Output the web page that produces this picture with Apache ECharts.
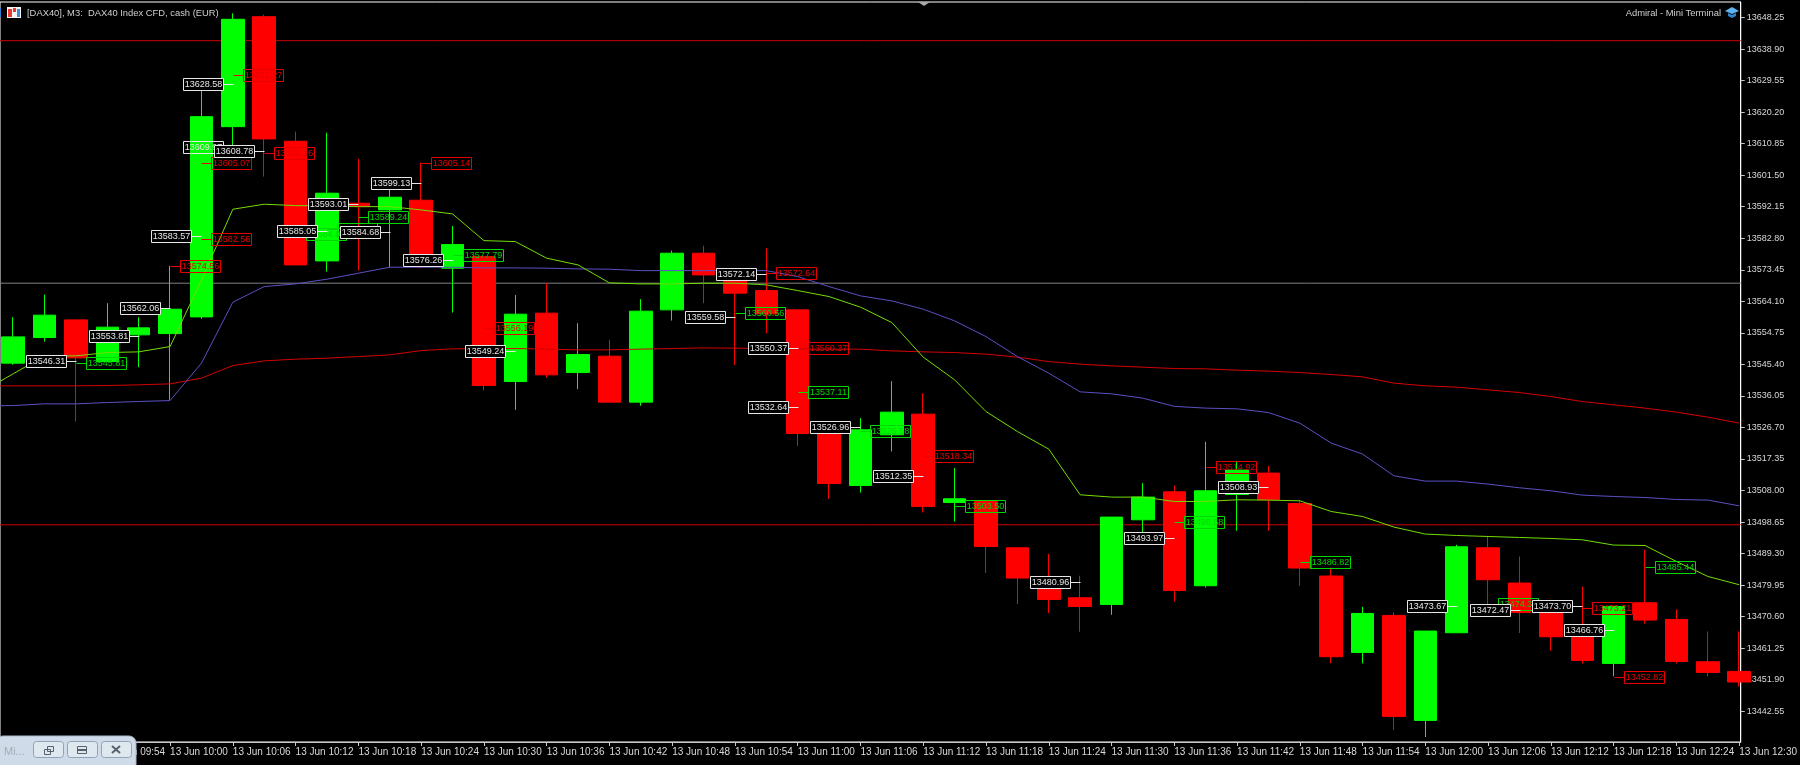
<!DOCTYPE html>
<html>
<head>
<meta charset="utf-8">
<title>DAX40 M3</title>
<style>
  html, body { margin: 0; padding: 0; background: #000; }
  #chart { width: 1800px; height: 765px; }
</style>
<script src="https://cdn.jsdelivr.net/npm/echarts@6/dist/echarts.min.js"></script>
</head>
<body>
<div id="chart"></div>
<script>
// M3 bars, index 0 = 13 Jun 09:45
var opens = [13545.77, 13553.36, 13558.60, 13546.24, 13554.16, 13554.54, 13559.49, 13615.90, 13648.50, 13611.57,
  13576.09, 13593.19, 13591.21, 13594.08, 13573.93, 13577.36, 13540.31, 13560.59, 13542.98, 13547.84,
  13534.21, 13561.57, 13578.37, 13571.94, 13567.29, 13561.57, 13525.41, 13509.49, 13524.52, 13530.65,
  13504.45, 13504.75, 13491.02, 13481.03, 13476.20, 13474.22, 13499.32, 13507.62, 13479.76, 13506.82,
  13513.16, 13504.15, 13482.64, 13459.99, 13470.96, 13439.83, 13465.83, 13491.02, 13480.56, 13472.65,
  13465.24, 13456.73, 13474.72, 13469.77, 13457.23, 13454.36];
var closes = [13553.56, 13560.00, 13547.34, 13556.44, 13556.23, 13561.77, 13618.86, 13647.73, 13612.25, 13574.90,
  13596.16, 13592.18, 13594.97, 13574.40, 13580.92, 13539.13, 13560.29, 13542.30, 13548.32, 13534.21,
  13561.18, 13578.37, 13571.94, 13566.52, 13560.38, 13524.90, 13510.08, 13526.00, 13531.24, 13503.26,
  13505.55, 13491.41, 13482.04, 13475.70, 13473.62, 13500.12, 13506.05, 13478.37, 13507.92, 13514.05,
  13505.25, 13485.01, 13458.72, 13471.55, 13441.02, 13466.33, 13491.32, 13481.54, 13471.85, 13464.64,
  13457.62, 13473.62, 13469.59, 13457.32, 13454.06, 13451.22];
var lows = [13545.26, 13552.17, 13528.46, 13546.24, 13544.58, 13534.89, 13558.90, 13607.51, 13601.08, 13574.90,
  13572.92, 13573.21, 13574.22, 13573.93, 13560.77, 13537.65, 13531.93, 13541.50, 13538.06, 13534.21,
  13533.11, 13558.39, 13563.55, 13545.26, 13554.66, 13521.26, 13505.46, 13507.41, 13519.57, 13501.49,
  13498.82, 13483.52, 13474.34, 13471.67, 13466.13, 13471.16, 13492.59, 13475.11, 13479.26, 13496.06,
  13496.06, 13479.76, 13456.73, 13456.73, 13436.99, 13434.91, 13465.83, 13470.66, 13465.74, 13460.49,
  13456.73, 13452.88, 13468.50, 13456.73, 13452.88, 13449.91];
var highs = [13559.40, 13566.10, 13558.60, 13563.55, 13559.40, 13574.56, 13627.37, 13649.51, 13649.09, 13614.41,
  13614.12, 13606.32, 13599.30, 13605.23, 13586.46, 13577.36, 13566.01, 13569.48, 13557.62, 13552.67,
  13564.74, 13579.14, 13580.62, 13573.42, 13579.85, 13561.57, 13526.98, 13529.47, 13540.43, 13536.88,
  13514.65, 13504.75, 13491.02, 13489.24, 13482.72, 13500.12, 13510.20, 13509.49, 13522.44, 13516.81,
  13515.33, 13505.25, 13485.09, 13473.54, 13471.85, 13466.33, 13491.91, 13494.37, 13488.45, 13472.65,
  13479.46, 13473.62, 13490.43, 13472.73, 13466.21, 13466.21];

// moving averages, one value per bar; the *Before values sit one bar left of the window
var maGreenBefore = 13537.27;
var maGreen = [13542.60, 13547.93, 13547.93, 13548.91, 13549.12, 13550.69, 13570.46, 13591.41, 13592.90, 13592.48,
  13592.39, 13592.18, 13592.18, 13591.21, 13590.02, 13582.11, 13581.81, 13576.89, 13574.90, 13569.57,
  13569.27, 13569.27, 13569.48, 13569.48, 13568.98, 13567.29, 13565.51, 13562.37, 13557.80, 13547.55,
  13540.82, 13531.42, 13525.49, 13520.28, 13506.73, 13506.05, 13506.05, 13504.75, 13504.75, 13505.25,
  13505.16, 13504.95, 13501.78, 13500.30, 13497.16, 13495.08, 13494.67, 13494.37, 13494.08, 13493.78,
  13493.39, 13491.82, 13491.70, 13486.96, 13482.52, 13480.06];
var maBlueBefore = 13533.10;
var maBlue = [13533.20, 13533.70, 13533.70, 13534.09, 13534.39, 13534.68, 13545.77, 13563.85, 13568.47, 13569.27,
  13570.67, 13572.44, 13574.22, 13574.22, 13574.22, 13574.01, 13574.01, 13573.93, 13573.72, 13573.63,
  13573.21, 13573.21, 13573.21, 13573.21, 13573.21, 13571.44, 13568.47, 13565.72, 13564.23, 13561.77,
  13558.31, 13553.65, 13547.72, 13542.80, 13537.26, 13536.67, 13535.39, 13532.96, 13532.43, 13532.22,
  13531.13, 13527.98, 13522.06, 13518.80, 13512.36, 13510.79, 13510.79, 13509.90, 13508.81, 13507.92,
  13506.64, 13506.23, 13505.93, 13505.34, 13505.16, 13503.47];
var maRedBefore = 13539.04;
var maRed = [13539.04, 13539.04, 13539.04, 13539.13, 13539.34, 13539.63, 13541.32, 13545.06, 13546.45, 13546.95,
  13547.25, 13547.72, 13548.23, 13549.50, 13550.01, 13550.10, 13550.10, 13549.92, 13549.71, 13549.71,
  13549.92, 13550.10, 13550.30, 13550.21, 13550.10, 13549.92, 13549.92, 13549.92, 13549.41, 13549.12,
  13548.91, 13548.44, 13547.55, 13546.24, 13545.47, 13544.97, 13544.58, 13544.17, 13544.08, 13543.69,
  13543.40, 13542.98, 13542.39, 13541.71, 13539.84, 13539.04, 13538.65, 13537.85, 13537.05, 13535.87,
  13534.39, 13533.41, 13532.43, 13531.24, 13529.76, 13527.98];

// horizontal levels
var redLevels = [13641.39, 13497.84];
var grayLevels = [13569.48];

// price tags as [bar, price]
var whiteTags = [[2, 13546.31], [4, 13553.81], [5, 13562.06], [6, 13583.57], [7, 13628.58], [8, 13608.78],
  [10, 13585.05], [11, 13593.01], [12, 13584.68], [13, 13599.13], [14, 13576.26], [16, 13549.24], [23, 13559.58],
  [24, 13572.14], [25, 13550.37], [25, 13532.64], [27, 13526.96], [29, 13512.35], [34, 13480.96], [37, 13493.97],
  [40, 13508.93], [46, 13473.67], [48, 13472.47], [50, 13473.70], [51, 13466.76]];
var clearWhiteTags = [[7, 13609.97]];
var greenTags = [[2, 13545.81], [9, 13584.09], [10, 13585.43], [11, 13589.24], [14, 13577.79], [23, 13560.56],
  [25, 13537.11], [27, 13525.58], [30, 13503.50], [37, 13498.58], [41, 13486.82], [47, 13474.35], [52, 13485.44]];
var redTags = [[5, 13574.56], [6, 13605.07], [6, 13582.56], [7, 13631.27], [8, 13608.16], [13, 13605.14],
  [15, 13556.19], [24, 13572.64], [25, 13550.37], [29, 13518.34], [38, 13514.92], [50, 13473.21], [51, 13452.82]];

var yTicks = [13648.25, 13638.90, 13629.55, 13620.20, 13610.85, 13601.50, 13592.15, 13582.80, 13573.45, 13564.10,
  13554.75, 13545.40, 13536.05, 13526.70, 13517.35, 13508.00, 13498.65, 13489.30, 13479.95, 13470.60,
  13461.25, 13451.90, 13442.55];
var xTickBars = [1, 3, 5, 7, 9, 11, 13, 15, 17, 19, 21, 23, 25, 27, 29, 31, 33, 35, 37, 39, 41, 43, 45, 47, 49, 51, 53, 55];
var xTickLabels = ['13 Jun 09:48', '13 Jun 09:54', '13 Jun 10:00', '13 Jun 10:06', '13 Jun 10:12', '13 Jun 10:18', '13 Jun 10:24',
  '13 Jun 10:30', '13 Jun 10:36', '13 Jun 10:42', '13 Jun 10:48', '13 Jun 10:54', '13 Jun 11:00', '13 Jun 11:06',
  '13 Jun 11:12', '13 Jun 11:18', '13 Jun 11:24', '13 Jun 11:30', '13 Jun 11:36', '13 Jun 11:42', '13 Jun 11:48',
  '13 Jun 11:54', '13 Jun 12:00', '13 Jun 12:06', '13 Jun 12:12', '13 Jun 12:18', '13 Jun 12:24', '13 Jun 12:30'];

var FONT = '"Liberation Sans", Arial, sans-serif';
var X_MIN = -0.42, X_MAX = 55.05;
var Y_MIN = 13433.43, Y_MAX = 13652.86;

function maSeries(name, before, values, color) {
  var pts = [[-1, before]];
  values.forEach(function(v, i) { pts.push([i, v]); });
  return {
    name: name, type: 'line', data: pts, z: 3, silent: true, showSymbol: false, symbol: 'none',
    lineStyle: {color: color, width: 1}
  };
}

function levelSeries(level, color) {
  return {
    type: 'line', data: [[X_MIN, level], [X_MAX, level]], z: 1, silent: true, showSymbol: false, symbol: 'none',
    lineStyle: {color: color, width: 1}
  };
}

// Outlined price box joined to its bar by a short stub
function tagSeries(tags, color, toRight, fill, z) {
  return {
    type: 'custom', data: tags, z: z, silent: true, clip: false,
    encode: {x: 0, y: 1},
    renderItem: function(params, api) {
      var pt = api.coord([api.value(0), api.value(1)]);
      var x = Math.round(pt[0]) + 0.5, y = Math.round(pt[1]) + 0.5;
      var boxX = toRight ? x + 10 : x - 50;
      return {
        type: 'group',
        children: [
          {type: 'line', shape: {x1: x, y1: y, x2: toRight ? x + 10 : x - 10, y2: y}, style: {stroke: color, lineWidth: 1}},
          {type: 'rect', shape: {x: boxX, y: y - 6, width: 40, height: 12}, style: {fill: fill, stroke: color, lineWidth: 1}},
          {type: 'text', style: {
            x: boxX + 20, y: y + 0.5, text: api.value(1).toFixed(2), fill: color,
            font: '9px ' + FONT, align: 'center', verticalAlign: 'middle'
          }}
        ]
      };
    }
  };
}

function windowBar() {
  var z = 100, out = [];
  out.push({type: 'rect', z: z, shape: {x: -4, y: 736, width: 140, height: 40, r: 7},
    style: {fill: '#cfdbe8', stroke: '#a9b8c8', lineWidth: 1}});
  out.push({type: 'text', z: z, style: {x: 4, y: 752, text: 'Mi...', fill: '#a6acb3', font: '11px ' + FONT, verticalAlign: 'middle'}});
  [33, 67, 101].forEach(function(bx) {
    out.push({type: 'rect', z: z, shape: {x: bx + 0.5, y: 741.5, width: 30, height: 16, r: 3},
      style: {fill: '#dfe7ef', stroke: '#8ea2b8', lineWidth: 1}});
  });
  out.push({type: 'rect', z: z, shape: {x: 44.5, y: 749.5, width: 6, height: 5}, style: {fill: 'none', stroke: '#56616d', lineWidth: 1}});
  out.push({type: 'rect', z: z, shape: {x: 47.5, y: 746.5, width: 6, height: 5}, style: {fill: 'none', stroke: '#56616d', lineWidth: 1}});
  out.push({type: 'rect', z: z, shape: {x: 77.5, y: 746.5, width: 9, height: 7}, style: {fill: 'none', stroke: '#56616d', lineWidth: 1}});
  out.push({type: 'line', z: z, shape: {x1: 78, y1: 750, x2: 86, y2: 750}, style: {stroke: '#56616d', lineWidth: 2}});
  out.push({type: 'line', z: z, shape: {x1: 112, y1: 746, x2: 120, y2: 753}, style: {stroke: '#56616d', lineWidth: 2}});
  out.push({type: 'line', z: z, shape: {x1: 120, y1: 746, x2: 112, y2: 753}, style: {stroke: '#56616d', lineWidth: 2}});
  return out;
}

function headerBits() {
  var txt = '#cfcfcf';
  return [
    {type: 'rect', z: 90, shape: {x: 0, y: 8, width: 1, height: 9}, style: {fill: '#2a7fd0'}},
    {type: 'rect', z: 90, shape: {x: 7, y: 7, width: 14, height: 11}, style: {fill: '#f4f4f4'}},
    {type: 'rect', z: 90, shape: {x: 8, y: 9, width: 4, height: 8}, style: {fill: '#e83a30'}},
    {type: 'rect', z: 90, shape: {x: 13, y: 8, width: 3, height: 4}, style: {fill: '#e83a30'}},
    {type: 'rect', z: 90, shape: {x: 17, y: 9, width: 3, height: 8}, style: {fill: '#3b8fd8'}},
    {type: 'text', z: 90, style: {x: 27, y: 13, text: '[DAX40], M3:  DAX40 Index CFD, cash (EUR)', fill: txt, font: '9.4px ' + FONT, verticalAlign: 'middle'}},
    {type: 'text', z: 90, style: {x: 1721, y: 13, text: 'Admiral - Mini Terminal', fill: txt, font: '9.4px ' + FONT, align: 'right', verticalAlign: 'middle'}},
    {type: 'polygon', z: 90, shape: {points: [[1725, 11], [1732, 7], [1739, 11], [1732, 14]]}, style: {fill: '#5fb4ee'}},
    {type: 'polygon', z: 90, shape: {points: [[1728, 13], [1732, 15], [1736, 13], [1736, 16], [1732, 18], [1728, 16]]}, style: {fill: '#2f86cc'}},
    {type: 'polygon', z: 90, shape: {points: [[918, 2], [930, 2], [924, 6]]}, style: {fill: '#a8a8a8'}}
  ];
}

var candles = opens.map(function(o, i) {
  return [i, o, closes[i], lows[i], highs[i]];
});

var chart = echarts.init(document.getElementById('chart'), null, {renderer: 'canvas'});

var series = [];
redLevels.forEach(function(l) { series.push(levelSeries(l, '#cc0000')); });
grayLevels.forEach(function(l) { series.push(levelSeries(l, '#808080')); });
series.push({
  name: 'DAX40', type: 'candlestick', data: candles, z: 2, silent: true, barWidth: 23,
  encode: {x: 0, y: [1, 2, 3, 4]},
  itemStyle: {color: '#00ff00', color0: '#ff0000', borderColor: '#00ff00', borderColor0: '#ff0000', borderWidth: 1}
});
series.push(maSeries('MA slow', maRedBefore, maRed, '#d40000'));
series.push(maSeries('MA mid', maBlueBefore, maBlue, '#5a50c4'));
series.push(maSeries('MA fast', maGreenBefore, maGreen, '#74dc00'));
series.push(tagSeries(redTags, '#e60000', true, 'transparent', 4));
series.push(tagSeries(greenTags, '#00d800', true, 'transparent', 4));
series.push(tagSeries(clearWhiteTags, '#e6e6e6', false, 'transparent', 4));
series.push(tagSeries(whiteTags, '#e6e6e6', false, '#000', 5));

chart.setOption({
  animation: false,
  backgroundColor: '#000',
  grid: {left: 0, right: 57, top: 2, height: 740, show: true, borderColor: '#ffffff', borderWidth: 1, backgroundColor: '#000'},
  xAxis: {
    type: 'value', min: X_MIN, max: X_MAX, splitLine: {show: false},
    axisLine: {show: true, onZero: false, lineStyle: {color: '#c8c8c8'}},
    axisTick: {show: true, length: 4, customValues: xTickBars, lineStyle: {color: '#c8c8c8'}},
    axisLabel: {
      show: true, customValues: xTickBars, color: '#d8d8d8', fontFamily: FONT, fontSize: 10, align: 'left', margin: 5,
      formatter: function(v) { return xTickLabels[xTickBars.indexOf(v)]; }
    }
  },
  yAxis: {
    type: 'value', position: 'right', min: Y_MIN, max: Y_MAX, splitLine: {show: false},
    axisLine: {show: true, onZero: false, lineStyle: {color: '#ffffff'}},
    axisTick: {show: true, length: 4, customValues: yTicks, lineStyle: {color: '#c8c8c8'}},
    axisLabel: {
      show: true, customValues: yTicks, color: '#d8d8d8', fontFamily: FONT, fontSize: 9, margin: 6,
      formatter: function(v) { return v.toFixed(2); }
    }
  },
  series: series,
  graphic: headerBits().concat(windowBar())
});
</script>
</body>
</html>
